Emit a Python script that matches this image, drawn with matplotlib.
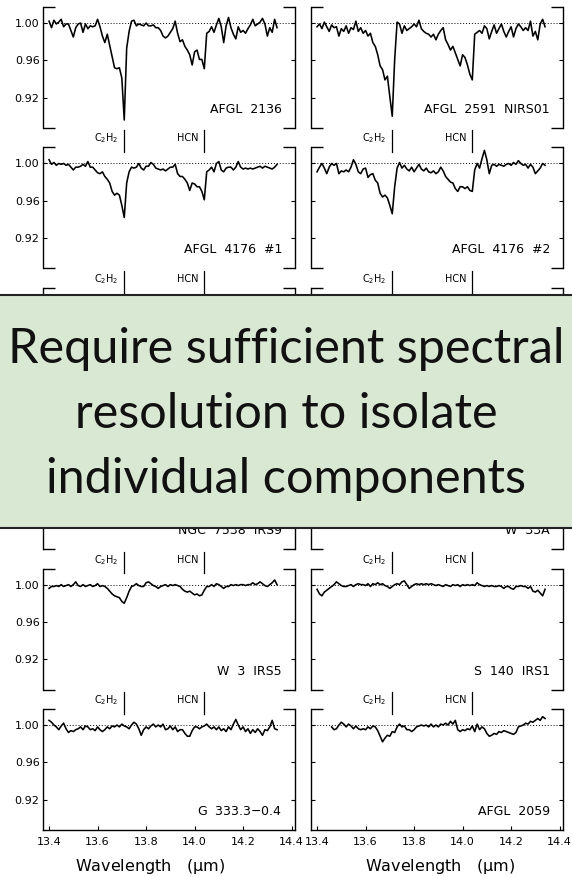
import numpy as np
import matplotlib.pyplot as plt
from matplotlib.patches import Rectangle
from matplotlib.ticker import FormatStrFormatter
from matplotlib.transforms import blended_transform_factory

plt.rcParams['font.family'] = ['DejaVu Sans']
plt.rcParams['mathtext.default'] = 'regular'

# common wavelength grid (micron) of the ISO-SWS spectra
wave = [13.40, 13.41, 13.42, 13.43, 13.44, 13.45, 13.46, 13.47, 13.48, 13.49,
        13.50, 13.51, 13.52, 13.53, 13.54, 13.55, 13.56, 13.57, 13.58, 13.59,
        13.60, 13.61, 13.62, 13.63, 13.64, 13.65, 13.66, 13.67, 13.68, 13.69,
        13.70, 13.71, 13.72, 13.73, 13.74, 13.75, 13.76, 13.77, 13.78, 13.79,
        13.80, 13.81, 13.82, 13.83, 13.84, 13.85, 13.86, 13.87, 13.88, 13.89,
        13.90, 13.91, 13.92, 13.93, 13.94, 13.95, 13.96, 13.97, 13.98, 13.99,
        14.00, 14.01, 14.02, 14.03, 14.04, 14.05, 14.06, 14.07, 14.08, 14.09,
        14.10, 14.11, 14.12, 14.13, 14.14, 14.15, 14.16, 14.17, 14.18, 14.19,
        14.20, 14.21, 14.22, 14.23, 14.24, 14.25, 14.26, 14.27, 14.28, 14.29,
        14.30, 14.31, 14.32, 14.33, 14.34]

afgl2136 = [1.002, 0.995, 1.003, 0.999, 1.001, 1.004, 0.996, 0.999, 0.999, 0.992,
            0.985, 0.995, 0.999, 1.000, 0.990, 0.999, 0.994, 0.997, 0.996, 0.997,
            1.004, 0.996, 0.986, 0.979, 0.988, 0.976, 0.964, 0.952, 0.951, 0.952,
            0.941, 0.896, 0.973, 0.991, 1.002, 1.003, 0.997, 0.999, 0.998, 0.997,
            1.000, 0.997, 0.997, 0.998, 0.995, 0.995, 0.992, 0.986, 0.984, 0.986,
            0.990, 0.994, 1.002, 0.989, 0.980, 0.982, 0.975, 0.971, 0.966, 0.955,
            0.969, 0.971, 0.961, 0.961, 0.951, 0.989, 0.991, 0.996, 0.990, 0.998,
            1.005, 0.996, 0.979, 0.997, 1.006, 0.995, 0.988, 0.983, 0.996, 0.990,
            0.992, 0.989, 0.994, 0.998, 1.004, 0.997, 0.999, 1.001, 1.005, 0.999,
            0.986, 0.995, 0.990, 1.004, 0.995]

afgl2591 = [0.996, 0.999, 0.994, 1.001, 0.996, 0.991, 0.998, 0.995, 0.996, 0.986,
            0.994, 0.991, 0.997, 0.989, 0.995, 0.993, 1.002, 0.991, 0.995, 0.989,
            0.992, 0.986, 0.989, 0.979, 0.975, 0.966, 0.954, 0.950, 0.939, 0.943,
            0.921, 0.900, 0.961, 1.001, 0.999, 0.989, 0.997, 0.992, 0.994, 0.996,
            0.999, 0.996, 1.003, 0.994, 0.991, 0.989, 0.988, 0.985, 0.988, 0.982,
            0.988, 0.992, 0.995, 0.982, 0.977, 0.971, 0.975, 0.968, 0.961, 0.954,
            0.966, 0.963, 0.955, 0.945, 0.939, 0.988, 0.990, 0.992, 0.989, 0.997,
            0.994, 0.983, 0.991, 0.998, 0.989, 0.994, 0.999, 0.991, 0.985, 0.991,
            0.996, 0.985, 0.994, 0.999, 0.996, 0.992, 0.995, 0.992, 1.002, 0.986,
            0.991, 0.982, 0.999, 1.004, 0.996]

afgl4176_1 = [1.004, 0.999, 1.001, 0.998, 1.000, 0.999, 1.000, 0.998, 0.999, 0.996,
              0.993, 0.996, 0.996, 0.997, 0.999, 0.997, 1.002, 0.996, 0.996, 0.993,
              0.990, 0.989, 0.991, 0.986, 0.983, 0.979, 0.970, 0.966, 0.968, 0.966,
              0.955, 0.942, 0.979, 0.991, 0.996, 0.995, 0.996, 1.000, 0.995, 0.993,
              0.997, 0.997, 1.001, 0.999, 0.995, 0.994, 0.993, 0.994, 0.992, 0.994,
              0.996, 0.996, 0.999, 0.989, 0.986, 0.986, 0.983, 0.979, 0.971, 0.979,
              0.978, 0.975, 0.975, 0.970, 0.961, 0.991, 0.993, 0.996, 0.991, 1.000,
              1.002, 0.993, 0.991, 0.995, 0.996, 0.996, 0.993, 0.996, 1.002, 0.996,
              0.994, 0.995, 0.994, 0.995, 0.994, 0.995, 0.996, 0.997, 0.995, 0.997,
              0.996, 0.995, 0.994, 0.996, 0.999]

afgl4176_2 = [0.991, 0.996, 1.000, 0.995, 0.989, 0.996, 1.000, 0.998, 1.000, 0.989,
              0.992, 0.991, 0.993, 0.991, 0.996, 1.004, 0.999, 0.991, 0.989, 0.994,
              0.995, 0.985, 0.988, 0.989, 0.982, 0.979, 0.968, 0.964, 0.966, 0.963,
              0.955, 0.946, 0.975, 0.995, 1.001, 0.995, 0.998, 0.994, 0.992, 0.996,
              0.991, 0.995, 0.999, 0.994, 0.992, 0.995, 0.991, 0.990, 0.992, 0.989,
              0.991, 0.996, 0.992, 0.986, 0.983, 0.980, 0.979, 0.973, 0.970, 0.975,
              0.975, 0.973, 0.975, 0.971, 0.970, 0.993, 1.000, 0.995, 1.005, 1.014,
              1.004, 0.989, 0.998, 0.999, 0.997, 0.999, 0.998, 0.997, 0.999, 1.000,
              0.998, 1.001, 0.999, 1.003, 1.000, 0.998, 0.999, 0.995, 0.999, 0.996,
              0.989, 0.992, 0.995, 1.000, 0.998]

w3irs5 = [0.996, 0.998, 0.998, 0.999, 0.998, 1.000, 0.998, 0.999, 1.000, 0.998,
          1.000, 1.003, 0.999, 0.998, 1.000, 0.998, 0.999, 1.000, 0.998, 0.999,
          1.001, 0.998, 0.999, 0.998, 0.996, 0.993, 0.990, 0.988, 0.987, 0.986,
          0.982, 0.980, 0.986, 0.993, 0.998, 0.999, 1.001, 0.999, 0.998, 0.998,
          1.002, 1.003, 1.001, 0.999, 0.998, 0.996, 0.998, 0.999, 1.000, 0.998,
          1.000, 0.999, 1.000, 0.999, 0.998, 0.995, 0.993, 0.992, 0.993, 0.991,
          0.989, 0.990, 0.988, 0.989, 0.994, 0.998, 0.998, 1.000, 0.998, 1.001,
          1.000, 0.998, 0.996, 0.998, 0.998, 1.000, 0.999, 1.000, 0.999, 1.000,
          1.000, 0.999, 1.000, 1.000, 1.002, 1.000, 1.001, 1.003, 1.001, 0.999,
          0.998, 1.000, 1.002, 1.005, 1.000]

s140irs1 = [0.995, 0.990, 0.988, 0.992, 0.994, 0.996, 0.998, 1.000, 1.003, 1.001,
            0.999, 0.998, 0.998, 0.999, 1.000, 0.998, 1.000, 1.001, 1.000, 1.000,
            0.999, 1.001, 0.998, 1.001, 1.000, 1.002, 1.000, 1.001, 0.999, 0.998,
            0.996, 0.998, 1.000, 1.001, 1.000, 1.003, 1.004, 1.000, 0.996, 0.998,
            1.000, 1.001, 1.000, 1.001, 1.000, 1.001, 1.000, 1.001, 1.000, 0.999,
            1.000, 0.999, 0.998, 1.000, 0.999, 0.998, 1.000, 0.999, 1.000, 0.998,
            1.000, 0.999, 1.000, 0.999, 1.000, 0.999, 1.002, 1.000, 0.999, 0.998,
            0.999, 0.998, 0.999, 0.998, 0.998, 0.999, 0.998, 0.996, 0.998, 0.998,
            0.996, 0.995, 0.998, 0.998, 0.999, 0.998, 0.998, 0.996, 0.998, 0.993,
            0.992, 0.994, 0.991, 0.988, 0.995]

g333 = [1.005, 1.003, 1.000, 0.998, 0.995, 0.999, 1.002, 0.996, 0.992, 0.994,
        0.993, 0.995, 0.996, 0.998, 0.995, 0.999, 0.998, 0.995, 0.996, 0.994,
        0.998, 0.995, 0.993, 0.995, 0.998, 0.996, 0.999, 0.998, 1.000, 0.998,
        1.001, 0.999, 0.998, 0.996, 1.000, 1.003, 1.001, 0.996, 0.989, 0.995,
        0.998, 0.996, 0.999, 1.001, 0.998, 1.000, 0.998, 1.001, 0.995, 0.996,
        0.999, 0.995, 0.998, 0.993, 0.995, 0.995, 0.991, 0.988, 0.988, 0.994,
        0.998, 0.998, 0.996, 0.998, 0.999, 1.001, 0.998, 0.996, 0.998, 0.995,
        0.998, 0.994, 0.996, 0.993, 0.998, 0.995, 1.001, 1.006, 1.000, 0.995,
        0.998, 0.993, 0.996, 0.991, 0.995, 0.992, 0.996, 0.993, 0.989, 0.995,
        0.994, 0.998, 1.005, 0.996, 0.995]

afgl2059 = [np.nan, np.nan, np.nan, np.nan, np.nan, np.nan, 0.998, 0.995, 0.996, 1.000,
            1.003, 1.001, 0.998, 1.001, 0.999, 0.996, 0.999, 0.996, 0.995, 0.996,
            0.995, 0.998, 0.996, 0.999, 0.998, 0.994, 0.988, 0.982, 0.986, 0.989,
            0.988, 0.993, 0.992, 0.998, 1.001, 0.998, 0.999, 0.995, 0.995, 0.993,
            0.995, 0.998, 0.999, 1.000, 0.999, 1.000, 0.998, 1.001, 0.998, 1.000,
            0.998, 1.001, 1.000, 1.002, 1.000, 1.004, 1.001, 1.005, 0.995, 0.993,
            0.995, 0.994, 0.996, 0.995, 0.999, 0.993, 1.001, 0.995, 0.998, 0.996,
            0.991, 0.988, 0.989, 0.991, 0.990, 0.993, 0.992, 0.994, 0.993, 0.992,
            0.991, 0.990, 0.992, 0.998, 0.999, 1.000, 1.002, 1.001, 1.004, 1.003,
            1.005, 1.007, 1.005, 1.009, 1.007]

# rows 3 and 4 sit under the caption box, only a coarse trace is kept
wave_coarse = [13.40, 13.50, 13.60, 13.66, 13.71, 13.76, 13.85, 13.95, 14.04, 14.10, 14.20, 14.34]
ngc3576 = [0.999, 0.998, 0.997, 0.995, 0.990, 0.998, 0.999, 0.996, 0.994, 0.999, 0.998, 0.999]
ngc7538irs1 = [0.998, 0.999, 0.998, 0.996, 0.993, 0.999, 0.998, 0.997, 0.995, 1.000, 0.999, 0.998]
ngc7538irs9 = [0.999, 0.998, 0.997, 0.994, 0.988, 0.998, 0.999, 0.995, 0.992, 0.999, 0.998, 1.000]
w33a = [0.998, 0.999, 0.998, 0.995, 0.991, 0.999, 0.998, 0.996, 0.993, 0.999, 0.999, 0.998]

names = [['AFGL  2136', 'AFGL  2591  NIRS01'],
         ['AFGL  4176  #1', 'AFGL  4176  #2'],
         ['NGC  3576', 'NGC  7538  IRS1'],
         ['NGC  7538  IRS9', 'W  33A'],
         ['W  3  IRS5', 'S  140  IRS1'],
         ['G  333.3$-$0.4', 'AFGL  2059']]
spectra = [[(wave, afgl2136), (wave, afgl2591)],
           [(wave, afgl4176_1), (wave, afgl4176_2)],
           [(wave_coarse, ngc3576), (wave_coarse, ngc7538irs1)],
           [(wave_coarse, ngc7538irs9), (wave_coarse, w33a)],
           [(wave, w3irs5), (wave, s140irs1)],
           [(wave, g333), (wave, afgl2059)]]

lines_pos = [13.71, 14.04]
lines_lab = ['C$_2$H$_2$', 'HCN']
xticks = [13.4, 13.6, 13.8, 14.0, 14.2, 14.4]
yticks = [0.92, 0.96, 1.00]

caption = ['Require sufficient spectral', 'resolution to isolate', 'individual components']

W, H = 572.0, 877.0
fig = plt.figure(figsize=(W / 100, H / 100), dpi=100)

col_left = [43, 311]
ax_w, ax_h = 252, 121
row_bottom = [128, 268.4, 408.8, 549.2, 689.6, 830]
nrow = len(row_bottom)
# rows whose inner texts are fully covered by the caption box
hidden_rows = [2, 3]


def draw_panel(ax, w, f, name, row, col):
    last = row == nrow - 1
    covered = row in hidden_rows
    ax.set_xlim(13.375, 14.414)
    ax.set_ylim(0.8874, 1.0172)
    ax.axhline(1.0, color='k', lw=0.7, ls=(0, (1, 2)))
    ax.plot(w, f, color='k', lw=1.15, clip_on=False)

    # bracket style frame: full sides, short stubs at top and bottom
    ax.spines['top'].set_visible(False)
    ax.spines['bottom'].set_visible(last)
    for sp in ax.spines.values():
        sp.set_linewidth(1.0)
    stubs = [1] if last else [0, 1]
    for yy in stubs:
        for xs in ([0, 0.048], [0.952, 1]):
            ax.plot(xs, [yy, yy], transform=ax.transAxes, color='k', lw=1.0,
                    clip_on=False, solid_capstyle='butt')

    ax.set_yticks(yticks)
    ax.yaxis.set_major_formatter(FormatStrFormatter('%.2f'))
    ax.tick_params(axis='y', direction='in', left=True, right=True, length=3,
                   width=0.8, labelsize=8, pad=2.5,
                   labelleft=(col == 0 and not covered))
    ax.set_xticks(xticks)
    ax.xaxis.set_major_formatter(FormatStrFormatter('%.1f'))
    ax.tick_params(axis='x', direction='in', length=3, width=0.8, labelsize=8,
                   pad=5, bottom=last, top=False, labelbottom=last)

    if row != 2:
        ax.text(0.948, 0.124, name, transform=ax.transAxes, ha='right',
                va='baseline', fontsize=9)

    # molecular band markers above each panel except the first row
    if row > 0 and row != 3:
        trans = blended_transform_factory(ax.transData, ax.transAxes)
        for x0, lab in zip(lines_pos, lines_lab):
            ax.plot([x0, x0], [0.96, 1.14], transform=trans, color='k', lw=0.9,
                    clip_on=False)
            ax.text(x0 - 0.022, 1.074, lab, transform=trans, ha='right',
                    va='center', fontsize=7)


for r in range(nrow):
    for c in range(2):
        rect = [col_left[c] / W, 1 - row_bottom[r] / H, ax_w / W, ax_h / H]
        ax = fig.add_axes(rect)
        w, f = spectra[r][c]
        draw_panel(ax, w, f, names[r][c], r, c)

for xc in (150, 440):
    fig.text(xc / W, 1 - 867 / H, 'Wavelength   ($\\mu$m)', ha='center',
             va='center', fontsize=11.5)

# caption box laid over rows 3 and 4
box_top, box_bot = 295, 528
box = Rectangle((-0.02, 1 - box_bot / H), 1.04, (box_bot - box_top) / H,
                transform=fig.transFigure, facecolor='#d9e8d3',
                edgecolor='#222222', lw=1.5, zorder=10)
fig.add_artist(box)
for i, txt in enumerate(caption):
    fig.text(0.5, 1 - (363 + 65 * i) / H, txt, ha='center', va='baseline',
             fontsize=35, family=['Lato', 'DejaVu Sans'], color='#111111',
             zorder=11)

fig.savefig('out.png', dpi=100)
